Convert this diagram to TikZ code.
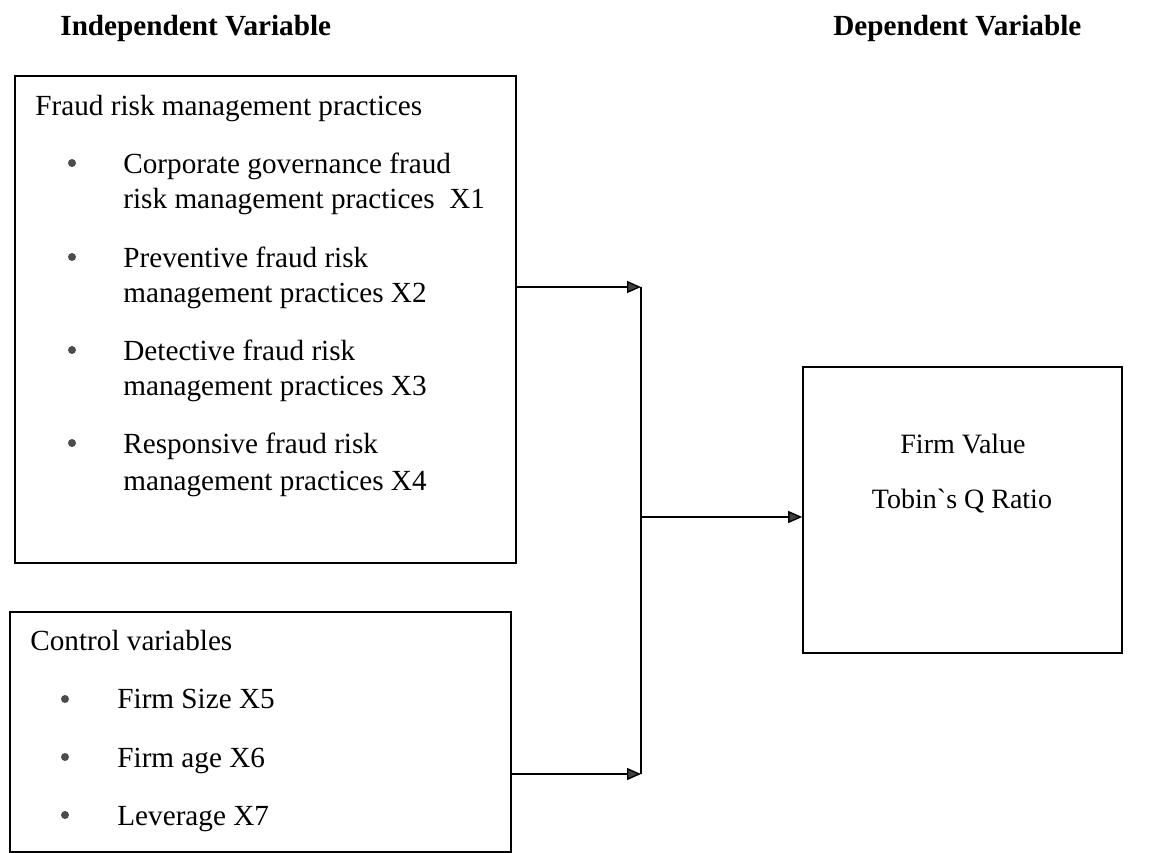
\documentclass[tikz,border=0pt]{standalone}
\usepackage{fontspec}
\setmainfont{Liberation Serif}
\newfontfamily\rawserif{Liberation Serif}
\usetikzlibrary{arrows.meta}
\begin{document}
\begin{tikzpicture}[x=0.5pt,y=-0.5pt,
  txt/.style={anchor=base west,inner sep=0pt,font=\fontsize{14.6}{18}\selectfont},
  hdr/.style={anchor=base west,inner sep=0pt,font=\fontsize{14.6}{18}\selectfont\bfseries},
  ctr/.style={anchor=base,inner sep=0pt,font=\fontsize{14}{17}\selectfont},
  bul/.style={circle,fill=black!70,inner sep=0pt,minimum size=4pt},
  box/.style={draw,line width=0.8pt,inner sep=0pt},
  conn/.style={line width=0.7pt},
  arr/.style={conn,-{Triangle[length=7pt,width=6pt,fill=black!75]}}]
\useasboundingbox (0,0) rectangle (1152,852);

% headers
\node[hdr] (hind) at (60,35) {Independent Variable};
\node[hdr] (hdep) at (833,35) {Dependent Variable};

% boxes
\node[box,minimum width=250.5pt,minimum height=243.5pt] (fraud) at (265.5,319.5) {};
\node[box,minimum width=250.5pt,minimum height=120pt] (ctrl) at (260.5,732) {};
\node[box,minimum width=159.5pt,minimum height=143pt] (firm) at (962.5,510) {};

% fraud box texts
\node[txt] (ft) at (35,115) {Fraud risk management practices};
\node[bul] (b1) at (72,163) {};
\node[txt] (f1a) at (123,173) {Corporate governance fraud};
\node[txt] (f1b) at (123,208) {risk management practices\ \ X1};
\node[bul] (b2) at (72,257) {};
\node[txt] (f2a) at (123,267) {Preventive fraud risk};
\node[txt] (f2b) at (123,302) {management practices X2};
\node[bul] (b3) at (72,350) {};
\node[txt] (f3a) at (123,360) {Detective fraud risk};
\node[txt] (f3b) at (123,395) {management practices X3};
\node[bul] (b4) at (72,443) {};
\node[txt] (f4a) at (123,453) {Responsive fraud risk};
\node[txt] (f4b) at (123,490) {management practices X4};

% control box texts
\node[txt] (ct) at (30,650) {Control variables};
\node[bul] (b5) at (65,699) {};
\node[txt] (c1) at (117,708) {Firm Size X5};
\node[bul] (b6) at (65,757) {};
\node[txt] (c2) at (117,767) {Firm age X6};
\node[bul] (b7) at (65,815) {};
\node[txt] (c3) at (117,825) {Leverage X7};

% firm value texts
\node[ctr] (fv1) at (963,453) {Firm Value};
\node[ctr] (fv2) at (962,508) {Tobin{\rawserif`}s Q Ratio};

% connectors
\coordinate (j1) at (641,287);
\coordinate (j2) at (641,774);
\coordinate (j3) at (641,517);
\draw[arr] (fraud.east |- j1) -- (j1);
\draw[arr] (ctrl.east |- j2) -- (j2);
\draw[conn] (j1) -- (j2);
\draw[arr] (j3) -- (firm.west |- j3);
\end{tikzpicture}
\end{document}
